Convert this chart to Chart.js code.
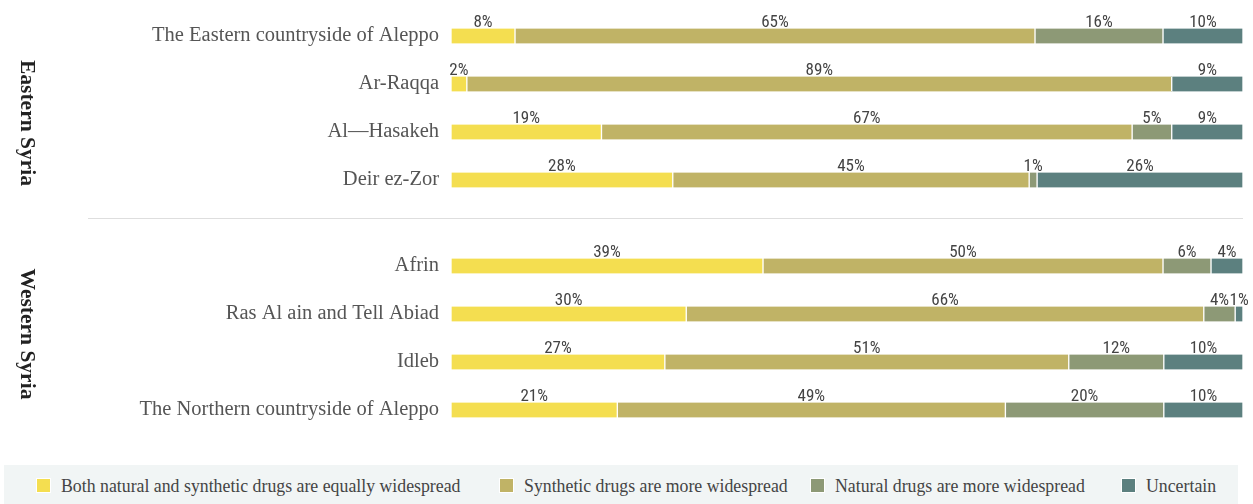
<!DOCTYPE html>
<html lang="en">
    <head>
        <meta charset="UTF-8">
        <title>Drugs in Syria</title>
        <style>
            body { margin: 0; background: #fff; }
            #page { position: relative; width: 1253px; height: 504px; overflow: hidden; }
            canvas { position: absolute; left: 0; }
            #east_chart { top: 12px; }
            #west_chart { top: 242px; }
            .group {
                position: absolute; left: 0; width: 54px; height: 0;
                font-family: 'Liberation Serif', serif; font-weight: bold; font-size: 21.5px; color: #222;
            }
            .group span {
                position: absolute; left: 50%; top: 0; white-space: nowrap;
                transform: translate(-50%, -50%) rotate(90deg);
            }
            #divider { position: absolute; left: 88px; top: 218px; width: 1155px; height: 1px; background: #dedede; }
            #legend {
                position: absolute; left: 4px; top: 465px; width: 1234px; height: 39px; background: #f1f5f5;
                font-family: 'Liberation Serif', serif; font-size: 17.8px; color: #444;
            }
            .item { position: absolute; top: 10px; white-space: nowrap; line-height: 22px; }
            .item i {
                display: inline-block; width: 13px; height: 13px; margin-right: 10px; vertical-align: -1px;
                border: 1px solid #fff;
            }
        </style>
    </head>

    <body>
        <div id="page">
            <canvas id="east_chart" width="1253" height="192"></canvas>
            <div id="divider"></div>
            <canvas id="west_chart" width="1253" height="192"></canvas>
            <div class="group" style="top: 123px;"><span>Eastern Syria</span></div>
            <div class="group" style="top: 334px;"><span>Western Syria</span></div>
            <div id="legend"></div>
        </div>
    </body>

<script src="https://cdn.jsdelivr.net/npm/chart.js@4"></script>

<script>
    const seriesNames = [
        'Both natural and synthetic drugs are equally widespread',
        'Synthetic drugs are more widespread',
        'Natural drugs are more widespread',
        'Uncertain'
    ];
    const seriesColors = ['#f4de50', '#c0b366', '#8d9976', '#5c807f'];

    const eastRegions = ['The Eastern countryside of Aleppo', 'Ar-Raqqa', 'Al\u2014Hasakeh', 'Deir ez-Zor'];
    const eastBoth      = [8, 2, 19, 28];
    const eastSynthetic = [65, 89, 67, 45];
    const eastNatural   = [16, 0, 5, 1];
    const eastUncertain = [10, 9, 9, 26];

    const westRegions = ['Afrin', 'Ras Al ain and Tell Abiad', 'Idleb', 'The Northern countryside of Aleppo'];
    const westBoth      = [39, 30, 27, 21];
    const westSynthetic = [50, 66, 51, 49];
    const westNatural   = [6, 4, 12, 20];
    const westUncertain = [4, 1, 10, 10];

    // percent labels above every segment
    const segmentLabels = {
        id: 'segmentLabels',
        afterDatasetsDraw(chart) {
            const ctx = chart.ctx;
            ctx.save();
            ctx.font = '17px "Liberation Sans Narrow", "Roboto Condensed", Roboto, sans-serif';
            ctx.fillStyle = '#444';
            ctx.textAlign = 'center';
            ctx.textBaseline = 'alphabetic';
            chart.data.datasets.forEach((ds, i) => {
                chart.getDatasetMeta(i).data.forEach((bar, j) => {
                    const v = ds.raw[j];
                    if (!v) return;
                    const p = bar.getProps(['x', 'base', 'y', 'height'], true);
                    ctx.fillText(v + '%', (p.x + p.base) / 2, p.y - p.height / 2 - 2);
                });
            });
            ctx.restore();
        }
    };

    function make_chart(id, regions, series) {
        // each row is stacked to 100% of its own total
        const totals = regions.map((r, j) => series.reduce((s, a) => s + a[j], 0));
        new Chart(id, {
            type: 'bar',
            data: {
                labels: regions,
                datasets: series.map((values, i) => ({
                    label: seriesNames[i],
                    raw: values,
                    data: values.map((v, j) => v / totals[j] * 100),
                    backgroundColor: seriesColors[i],
                    borderColor: '#fff',
                    borderWidth: {left: 1, right: 1, top: 0, bottom: 0},
                    borderSkipped: false,
                    barThickness: 15
                }))
            },
            options: {
                indexAxis: 'y',
                responsive: false,
                animation: false,
                layout: {padding: {left: 0, right: 10, top: 0, bottom: 0}},
                scales: {
                    x: {stacked: true, min: 0, max: 100, display: false},
                    y: {
                        stacked: true,
                        grid: {display: false, drawTicks: false},
                        border: {display: false},
                        ticks: {
                            padding: 12,
                            color: '#555',
                            font: {family: 'Liberation Serif', size: 20.5}
                        },
                        afterFit: (scale) => {
                            scale.width = 451;
                            scale.paddingTop = 0;
                            scale.paddingBottom = 0;
                        }
                    }
                },
                plugins: {legend: {display: false}, tooltip: {enabled: false}}
            },
            plugins: [segmentLabels]
        });
    }

    make_chart('east_chart', eastRegions, [eastBoth, eastSynthetic, eastNatural, eastUncertain]);
    make_chart('west_chart', westRegions, [westBoth, westSynthetic, westNatural, westUncertain]);

    // legend strip
    const legendLeft = [32, 495, 806, 1117];
    const legend = document.getElementById('legend');
    seriesNames.forEach((name, i) => {
        const el = document.createElement('div');
        el.className = 'item';
        el.style.left = legendLeft[i] + 'px';
        el.innerHTML = '<i style="background:' + seriesColors[i] + '"></i>' + name;
        legend.appendChild(el);
    });
</script>

</html>
